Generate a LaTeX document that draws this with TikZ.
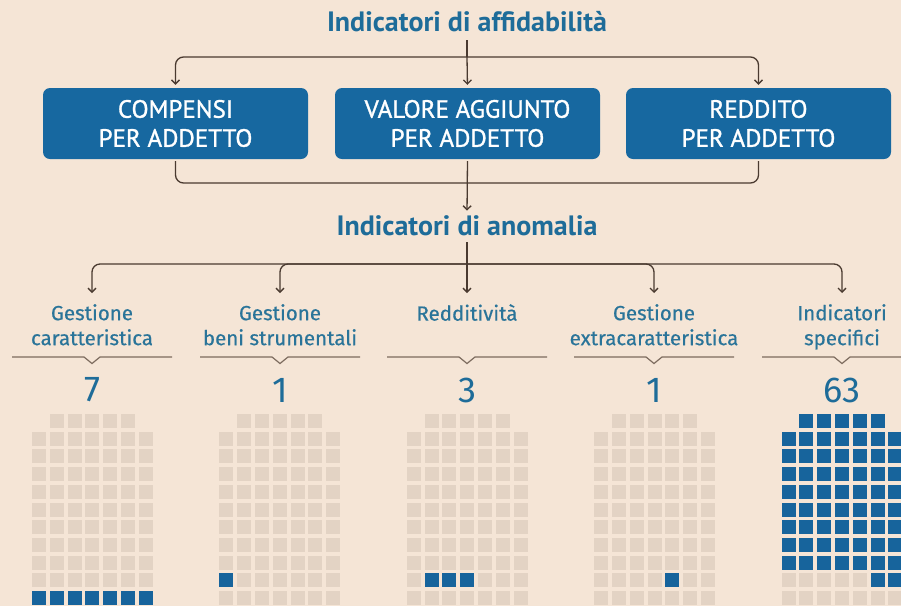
\documentclass[tikz,border=0pt]{standalone}
\usepackage{fontspec}
\setmainfont{Fira Sans}
\newfontfamily\ptsans{PT Sans}
\newfontfamily\boxfont{PT Sans}[FakeBold=1.2]
\newfontfamily\labfont{Fira Sans}[FakeBold=0.5]
\usetikzlibrary{arrows.meta}
\definecolor{bgc}{HTML}{F5E5D6}
\definecolor{boxblue}{HTML}{1768A0}
\definecolor{txtblue}{HTML}{1E6C99}
\definecolor{labblue}{HTML}{2A7499}
\definecolor{conn}{HTML}{4A3A30}
\definecolor{sepc}{HTML}{7C6B5E}
\definecolor{grsq}{HTML}{E3D3C4}
\definecolor{blsq}{HTML}{17649C}
\newcommand\mysq[4]{\fill[#4] ({32+187.4*#1+17.8*#3},{414+17.7*#2}) rectangle ++(14,14);}
\begin{document}
\begin{tikzpicture}[x=1pt,y=-1pt,
  title/.style={text=txtblue,font=\ptsans\bfseries\fontsize{28}{32}\selectfont,inner sep=2pt},
  bluebox/.style={fill=boxblue,rounded corners=7pt,text=white,minimum width=265pt,minimum height=71pt,inner sep=0pt,align=center,font=\boxfont\fontsize{25}{29}\selectfont},
  lab/.style={text=labblue,align=center,font=\labfont\fontsize{20.5}{25}\selectfont,inner sep=2pt,anchor=north},
  num/.style={text=txtblue,font=\fontsize{36}{40}\selectfont,inner sep=0pt},
  line/.style={draw=conn,line width=1.3pt,rounded corners=8pt},
  arr/.style={line,-{Straight Barb[length=4pt,width=8pt]},shorten >=3pt},
  sep/.style={draw=sepc,line width=1.2pt}
]
\fill[bgc] (0,0) rectangle (901,606);
\useasboundingbox (0,0) rectangle (901,606);

% nodes
\node[title] (t1) at (467,22) {Indicatori di affidabilità};
\node[bluebox] (b1) at (175.5,123.5) {COMPENSI\\PER ADDETTO};
\node[bluebox] (b2) at (467.5,123.5) {VALORE AGGIUNTO\\PER ADDETTO};
\node[bluebox] (b3) at (758.5,123.5) {REDDITO\\PER ADDETTO};
\node[title] (t2) at (467,226) {Indicatori di anomalia};

\node[lab] (l1) at (92,302) {Gestione\\caratteristica};
\node[lab] (l2) at (280,302) {Gestione\\beni strumentali};
\node[lab] (l3) at (467,302) {Redditività};
\node[lab] (l4) at (654,302) {Gestione\\extracaratteristica};
\node[lab] (l5) at (842,302) {Indicatori\\specifici};

\node[num] (n1) at (92,390) {7};
\node[num] (n2) at (280,390) {1};
\node[num] (n3) at (467,390) {3};
\node[num] (n4) at (654,390) {1};
\node[num] (n5) at (842,390) {63};

% hubs
\coordinate (h1) at (467,57);
\coordinate (h2) at (467,183);
\coordinate (h3) at (467,264);

% connectors level 1
\draw[line,shorten <=6pt] (t1.south) -- (h1);
\draw[arr] (h1) -- (b2.north);
\draw[arr] (h1) -| (b1.north);
\draw[arr] (h1) -| (b3.north);

% bracket
\draw[line,shorten <=2pt] (b1.south) |- (h2);
\draw[line,shorten <=2pt] (b3.south) |- (h2);
\draw[arr,shorten <=2pt] (b2.south) -- (t2.north);

% level 2
\draw[line,shorten <=4pt] (t2.south) -- (h3);
\draw[arr,shorten >=9pt] (h3) -- (l3.north);
\draw[arr,shorten >=9pt] (h3) -| (l1.north);
\draw[arr,shorten >=9pt] (h3) -| (l2.north);
\draw[arr,shorten >=9pt] (h3) -| (l4.north);
\draw[arr,shorten >=9pt] (h3) -| (l5.north);

% separators with notch
\foreach \x in {92,280,467,654,842}{
  \draw[sep] (\x-80,357) -- (\x-8,357) -- (\x,363.5) -- (\x+8,357) -- (\x+80,357);
}

% grids
\foreach \g in {0,...,4}{
  \foreach \c in {1,...,5}{\mysq{\g}{0}{\c}{grsq}}
  \foreach \r in {1,...,10}{\foreach \c in {0,...,6}{\mysq{\g}{\r}{\c}{grsq}}}
}
% blue squares
\foreach \c in {0,...,6}{\mysq{0}{10}{\c}{blsq}}
\mysq{1}{9}{0}{blsq}
\foreach \c in {1,2,3}{\mysq{2}{9}{\c}{blsq}}
\mysq{3}{9}{4}{blsq}
\foreach \c in {1,...,5}{\mysq{4}{0}{\c}{blsq}}
\foreach \r in {1,...,8}{\foreach \c in {0,...,6}{\mysq{4}{\r}{\c}{blsq}}}
\foreach \c in {5,6}{\mysq{4}{9}{\c}{blsq}}
\end{tikzpicture}
\end{document}
